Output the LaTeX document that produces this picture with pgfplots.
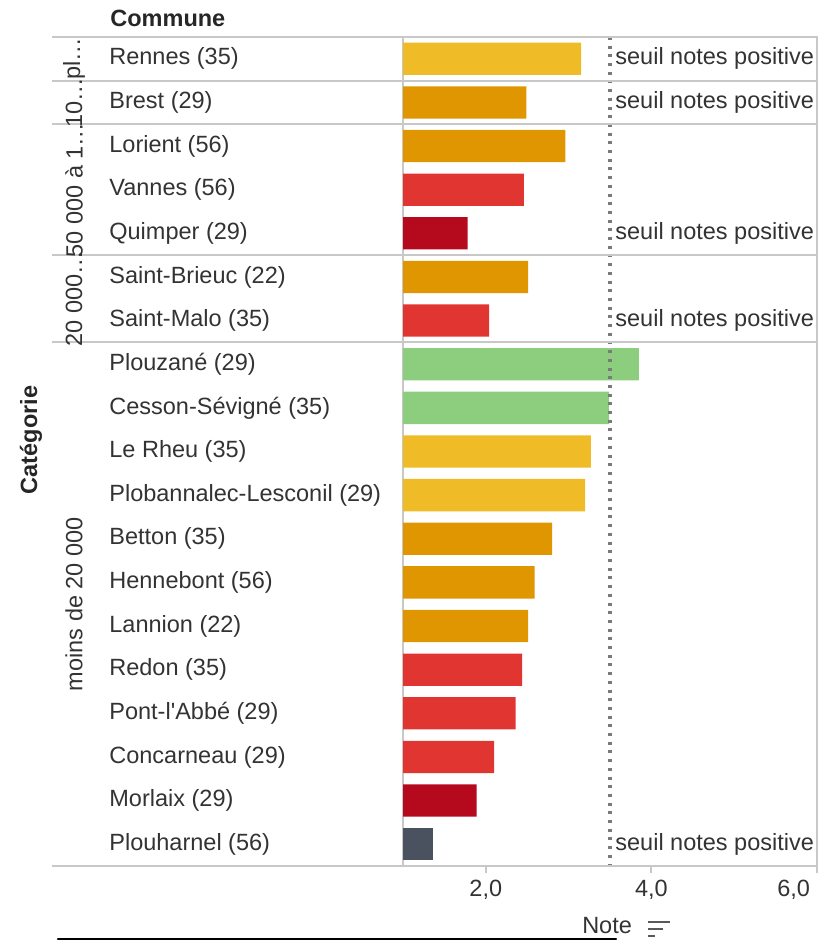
\documentclass[border=0pt]{standalone}
\usepackage{fontspec}
\setmainfont{Liberation Sans}
\usepackage{pgfplots}
\pgfplotsset{compat=1.18}
\definecolor{cgreen}{HTML}{8CCE7E}
\definecolor{cyellow}{HTML}{EFBB26}
\definecolor{corange}{HTML}{E09600}
\definecolor{cred}{HTML}{E03531}
\definecolor{cdark}{HTML}{B5091E}
\definecolor{cgray}{HTML}{4A5260}
\definecolor{gridc}{HTML}{C8C8C8}
\definecolor{txt}{HTML}{333333}
\definecolor{refc}{HTML}{7A7A7A}
\newcommand{\fs}{\fontsize{11.75}{14}\selectfont}
\begin{document}
\begin{tikzpicture}[x=0.5pt,y=0.5pt,font=\fs,text=txt]
\path[use as bounding box] (0,0) rectangle (827,940);
\begin{axis}[
  at={(201.5pt,37pt)}, anchor=south west,
  scale only axis, width=207pt, height=414.5pt,
  xmin=1, xmax=6, ymin=-18.5, ymax=0.5,
  clip mode=individual,
  axis line style={gridc, line width=1pt},
  tick align=outside,
  major tick length=3.5pt,
  xtick pos=left,
  xtick={2,4}, extra x ticks={6},
  extra x tick style={xticklabel style={anchor=north east}},
  x tick style={gridc, line width=1pt},
  xticklabel style={font=\fs, text=txt, /pgf/number format/fixed, /pgf/number format/fixed zerofill, /pgf/number format/precision=1, /pgf/number format/use comma, /pgf/number format/assume math mode=true},
  ytick={0,-1,-2,-3,-4,-5,-6,-7,-8,-9,-10,-11,-12,-13,-14,-15,-16,-17,-18},
  yticklabels={Rennes (35),Brest (29),Lorient (56),Vannes (56),Quimper (29),Saint-Brieuc (22),Saint-Malo (35),Plouzané (29),Cesson-Sévigné (35),Le Rheu (35),Plobannalec-Lesconil (29),Betton (35),Hennebont (56),Lannion (22),Redon (35),Pont-l\textquotesingle Abbé (29),Concarneau (29),Morlaix (29),Plouharnel (56)},
  y tick style={draw=none},
  yticklabel style={font=\fs, text=txt, anchor=west, inner sep=0pt, xshift=-143.5pt},
  xlabel={Note},
  xlabel style={font=\fs, text=txt, at={(rel axis cs:0.493,0)}, anchor=center, yshift=-30pt},
  bar width=0.74, bar shift=0pt,
]
\addplot[xbar, fill=cgreen, draw=none] coordinates {(3.85,-7) (3.49,-8)};
\addplot[xbar, fill=cyellow, draw=none] coordinates {(3.15,0) (3.27,-9) (3.20,-10)};
\addplot[xbar, fill=corange, draw=none] coordinates {(2.49,-1) (2.96,-2) (2.51,-5) (2.80,-11) (2.59,-12) (2.51,-13)};
\addplot[xbar, fill=cred, draw=none] coordinates {(2.46,-3) (2.04,-6) (2.44,-14) (2.36,-15) (2.10,-16)};
\addplot[xbar, fill=cdark, draw=none] coordinates {(1.78,-4) (1.89,-17)};
\addplot[xbar, fill=cgray, draw=none] coordinates {(1.36,-18)};
\addplot[refc, line width=1.6pt, dash pattern=on 1.5pt off 2.85pt] coordinates {(3.5,0.5) (3.5,-18.5)};
\foreach \r in {0,-1,-4,-6,-18} {
  \edef\tmp{\noexpand\node[anchor=west, inner sep=0pt, xshift=2.5pt, font=\noexpand\fs, text=txt] at (axis cs:3.5,\r) {seuil notes positive};}
  \tmp
}
\end{axis}
% separators
\foreach \py in {37,80.6,124.3,255.2,342.4,866} {
  \draw[gridc, line width=1pt] (52,940-\py) -- (817,940-\py);
}
% titles
\node[anchor=west, inner sep=0pt, font=\fs\bfseries, text=black!85] at (110,940-18) {Commune};
\node[rotate=90, inner sep=0pt, font=\fs\bfseries, text=black!85] at (31,940-440) {Catégorie};
% group labels
\node[rotate=90, inner sep=0pt] at (74,940-58.8) {pl…};
\node[rotate=90, inner sep=0pt] at (74,940-102.4) {10…};
\node[rotate=90, inner sep=0pt] at (74,940-189.8) {50 000 à 1…};
\node[rotate=90, inner sep=0pt] at (74,940-298.8) {20 000…};
\node[rotate=90, inner sep=0pt] at (74,940-604.2) {moins de 20 000};
% sort icon
\draw[black!65, line width=1pt] (648,940-922) -- (670,940-922);
\draw[black!65, line width=1pt] (648,940-929) -- (663,940-929);
\draw[black!65, line width=1pt] (648,940-936) -- (655,940-936);
% bottom bar
\draw[black, line width=1.2pt, line cap=round] (58,940-938.8) -- (616,940-938.8);
\end{tikzpicture}
\end{document}
